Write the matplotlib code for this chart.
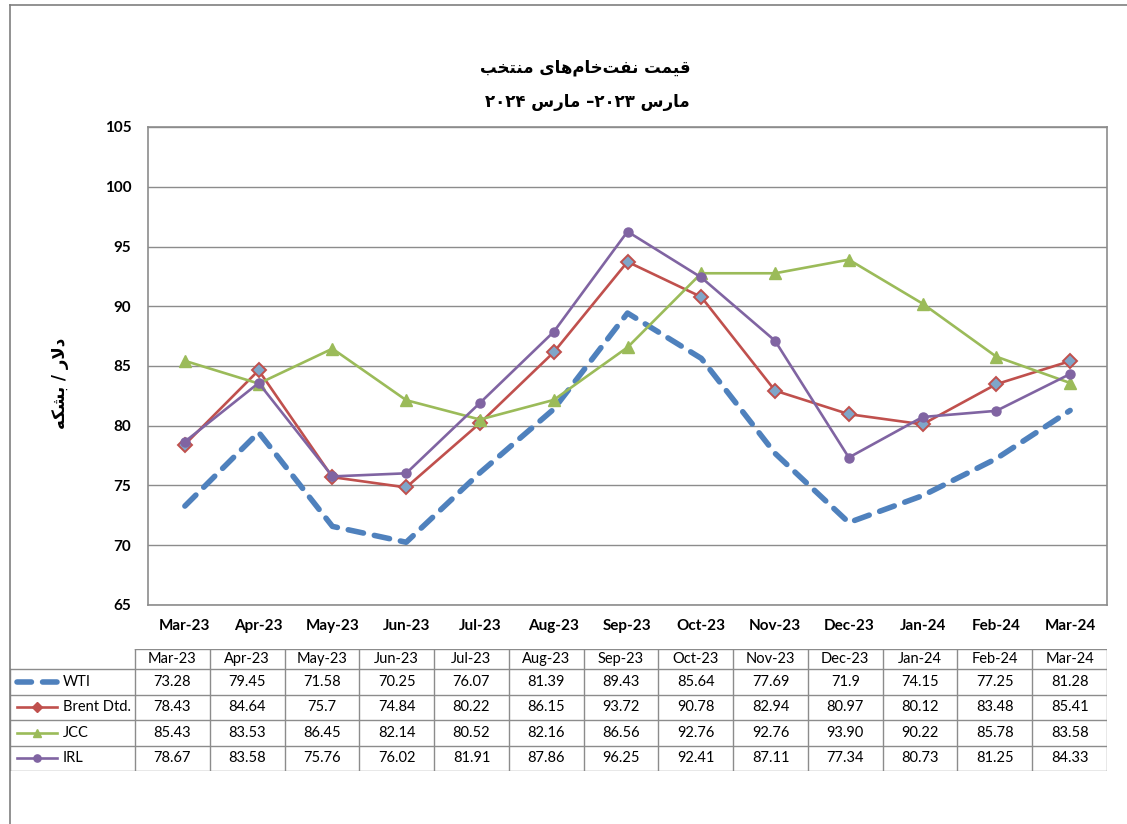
import matplotlib
matplotlib.use('Agg')
import matplotlib.pyplot as plt
from matplotlib.lines import Line2D

months = ['Mar-23', 'Apr-23', 'May-23', 'Jun-23', 'Jul-23', 'Aug-23', 'Sep-23',
          'Oct-23', 'Nov-23', 'Dec-23', 'Jan-24', 'Feb-24', 'Mar-24']
wti = [73.28, 79.45, 71.58, 70.25, 76.07, 81.39, 89.43, 85.64, 77.69, 71.9, 74.15, 77.25, 81.28]
brent = [78.43, 84.64, 75.7, 74.84, 80.22, 86.15, 93.72, 90.78, 82.94, 80.97, 80.12, 83.48, 85.41]
jcc = [85.43, 83.53, 86.45, 82.14, 80.52, 82.16, 86.56, 92.76, 92.76, 93.90, 90.22, 85.78, 83.58]
irl = [78.67, 83.58, 75.76, 76.02, 81.91, 87.86, 96.25, 92.41, 87.11, 77.34, 80.73, 81.25, 84.33]
# table text as shown in the chart
wti_txt = ['73.28', '79.45', '71.58', '70.25', '76.07', '81.39', '89.43', '85.64', '77.69', '71.9', '74.15', '77.25', '81.28']
brent_txt = ['78.43', '84.64', '75.7', '74.84', '80.22', '86.15', '93.72', '90.78', '82.94', '80.97', '80.12', '83.48', '85.41']
jcc_txt = ['85.43', '83.53', '86.45', '82.14', '80.52', '82.16', '86.56', '92.76', '92.76', '93.90', '90.22', '85.78', '83.58']
irl_txt = ['78.67', '83.58', '75.76', '76.02', '81.91', '87.86', '96.25', '92.41', '87.11', '77.34', '80.73', '81.25', '84.33']
names = ['WTI', 'Brent Dtd.', 'JCC', 'IRL']
yticks = [65, 70, 75, 80, 85, 90, 95, 100, 105]

title1 = ['منتخب', 'نفت\u200cخام\u200cهای', 'قیمت']   # words, left to right on screen
ylab = ['بشکه', 'دلار']

# simple arabic shaping (matplotlib does no joining / bidi)
FORMS = {
    'ا': ('\uFE8D', '\uFE8E', None, None),
    'ب': ('\uFE8F', '\uFE90', '\uFE91', '\uFE92'),
    'ت': ('\uFE95', '\uFE96', '\uFE97', '\uFE98'),
    'خ': ('\uFEA5', '\uFEA6', '\uFEA7', '\uFEA8'),
    'د': ('\uFEA9', '\uFEAA', None, None),
    'ر': ('\uFEAD', '\uFEAE', None, None),
    'س': ('\uFEB1', '\uFEB2', '\uFEB3', '\uFEB4'),
    'ش': ('\uFEB5', '\uFEB6', '\uFEB7', '\uFEB8'),
    'ف': ('\uFED1', '\uFED2', '\uFED3', '\uFED4'),
    'ق': ('\uFED5', '\uFED6', '\uFED7', '\uFED8'),
    'ک': ('\uFB8E', '\uFB8F', '\uFB90', '\uFB91'),
    'ل': ('\uFEDD', '\uFEDE', '\uFEDF', '\uFEE0'),
    'م': ('\uFEE1', '\uFEE2', '\uFEE3', '\uFEE4'),
    'ن': ('\uFEE5', '\uFEE6', '\uFEE7', '\uFEE8'),
    'ه': ('\uFEE9', '\uFEEA', '\uFEEB', '\uFEEC'),
    'ی': ('\uFBFC', '\uFBFD', '\uFBFE', '\uFBFF'),
    'لا': ('\uFEFB', '\uFEFC', None, None),
}


def shape(word):
    toks = []
    i = 0
    while i < len(word):
        if word[i] == 'ل' and i + 1 < len(word) and word[i + 1] == 'ا':
            toks.append('لا')
            i += 2
        else:
            toks.append(word[i])
            i += 1
    out = []
    for k, t in enumerate(toks):
        if t not in FORMS:
            continue
        prev = toks[k - 1] if k > 0 else None
        nxt = toks[k + 1] if k + 1 < len(toks) else None
        jp = prev in FORMS and FORMS[prev][2] is not None
        jn = FORMS[t][2] is not None and nxt in FORMS
        idx = 3 if (jp and jn) else 1 if jp else 2 if jn else 0
        out.append(FORMS[t][idx])
    return ''.join(out[::-1])


t1 = ' '.join(shape(w) for w in title1)
# visual order, left to right: 2024 March -2023 March
t2 = '۲۰۲۴ ' + shape('مارس') + ' –۲۰۲۳ ' + shape('مارس')
ylabel = shape(ylab[0]) + ' / ' + shape(ylab[1])

W, H = 1127, 824
fig = plt.figure(figsize=(W / 100, H / 100), dpi=100)
fig.patch.set_facecolor('white')
lat = 'Lato'

ax = fig.add_axes([148 / W, 1 - 605 / H, (1107 - 148) / W, (605 - 127) / H])
x = [i + 0.5 for i in range(len(months))]
ax.set_xlim(0, len(months))
ax.set_ylim(65, 105)
ax.set_yticks(yticks)
ax.set_xticks(x)
ax.set_xticklabels(months, fontweight='bold', fontsize=11, family=lat)
ax.set_yticklabels([str(v) for v in yticks], fontweight='bold', fontsize=11, family=lat)
ax.tick_params(length=0, pad=12)
ax.tick_params(axis='x', pad=10)
ax.grid(axis='y', color='#8c8c8c', linewidth=1)
ax.set_axisbelow(True)
for s in ax.spines.values():
    s.set_color('#8c8c8c')
    s.set_linewidth(1.2)

styles = [
    dict(color='#4f81bd', lw=4, ls=(0, (2.8, 2.0)), dash_capstyle='round', marker=None),
    dict(color='#c0504d', lw=1.9, marker='D', ms=7, mfc='#7fa6c9', mec='#c0504d', mew=1.4),
    dict(color='#9bbb59', lw=1.9, marker='^', ms=8, mfc='#9bbb59', mec='#9bbb59'),
    dict(color='#8064a2', lw=1.9, marker='o', ms=6.5, mfc='#8064a2', mec='#8064a2'),
]
series = [wti, brent, jcc, irl]
for vals, st in zip(series, styles):
    ax.plot(x, vals, **st)

fig.text(585 / W, 1 - 68 / H, t1, ha='center', va='center', fontsize=12,
         fontweight='bold', family=['DejaVu Sans'])
fig.text(587 / W, 1 - 102 / H, t2, ha='center', va='center', fontsize=12,
         fontweight='bold', family=['DejaVu Sans'])
fig.text(60 / W, 1 - 383 / H, ylabel, ha='center', va='center', rotation=90,
         fontsize=12, fontweight='bold', family=['DejaVu Sans'])

# data table
tab = fig.add_axes([10 / W, 1 - 771 / H, (1107 - 10) / W, (771 - 649) / H])
tab.set_xlim(-125, 972)
tab.set_ylim(122, 0)
tab.axis('off')
cw = 972 / len(months)
rows = [0, 20, 45.5, 71, 96.5, 122]
gc = '#8c8c8c'
tab.plot([0, 972], [0, 0], color=gc, lw=1)
for yy in rows[1:]:
    tab.plot([-125, 972], [yy, yy], color=gc, lw=1)
for j in range(len(months) + 1):
    tab.plot([j * cw, j * cw], [0, 122], color=gc, lw=1)
tab.plot([-125, -125], [20, 122], color=gc, lw=1)
for j, m in enumerate(months):
    tab.text((j + 0.5) * cw, 10, m, ha='center', va='center', fontsize=10.5, family=lat)
texts = [wti_txt, brent_txt, jcc_txt, irl_txt]
for r, (nm, vals, st) in enumerate(zip(names, texts, styles)):
    yc = (rows[r + 1] + rows[r + 2]) / 2
    for j, v in enumerate(vals):
        tab.text((j + 0.5) * cw, yc, v, ha='center', va='center', fontsize=10.5, family=lat)
    tab.text(-72, yc, nm, ha='left', va='center', fontsize=10.5, family=lat)
    if r == 0:
        tab.plot([-118, -78], [yc, yc], color=st['color'], lw=4, ls=(0, (2.6, 2.0)),
                 dash_capstyle='round')
    else:
        tab.plot([-118, -78], [yc, yc], color=st['color'], lw=1.9)
        tab.plot([-98], [yc], marker=st['marker'], ms=st['ms'] * 0.8, mfc=st['mec'],
                 mec=st['mec'], color=st['color'])

# outer chart frame
fig.add_artist(Line2D([10 / W, 10 / W], [0, 1 - 5 / H], color='#7f7f7f', lw=1.2))
fig.add_artist(Line2D([10 / W, 1], [1 - 5 / H, 1 - 5 / H], color='#7f7f7f', lw=1.2))

fig.savefig('out.png', dpi=100, facecolor='white')
